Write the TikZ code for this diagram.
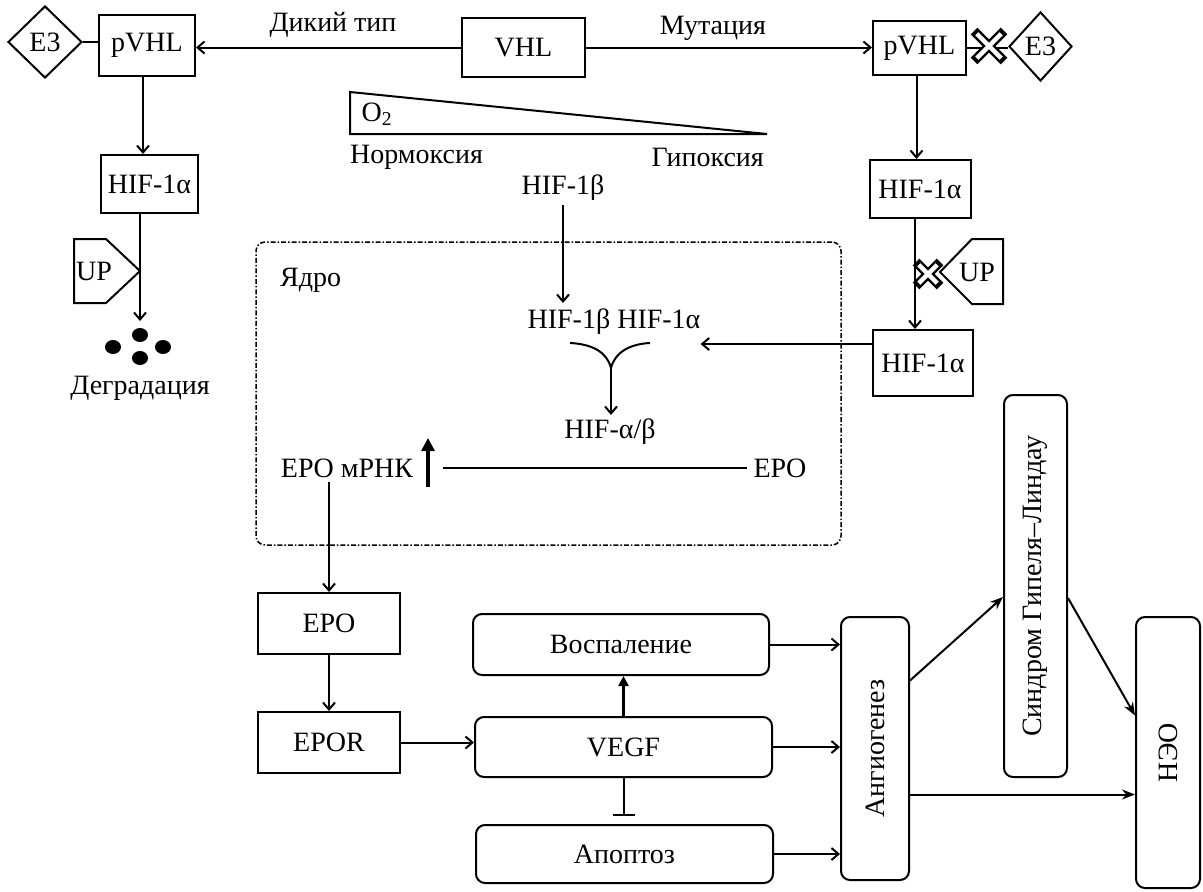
\documentclass[tikz,border=0pt]{standalone}
\usepackage{fontspec}
\setmainfont{Liberation Serif}
\usetikzlibrary{arrows.meta,shapes.geometric}
\tikzset{
  pics/xcross/.style={code={
    \draw[line width=9.5pt] (-#1,-#1)--(#1,#1) (-#1,#1)--(#1,-#1);
    \draw[white,line width=4.5pt] (-#1+2.8,-#1+2.8)--(#1-2.8,#1-2.8) (-#1+2.8,#1-2.8)--(#1-2.8,-#1+2.8);
  }}
}
\begin{document}
\begin{tikzpicture}[x=1pt,y=-1pt,
  every node/.style={font=\fontsize{28}{33}\selectfont, inner sep=0pt},
  ln/.style={line width=2pt},
  arr/.style={ln,-{Straight Barb[length=7pt,width=12pt,line width=2pt]}},
  farr/.style={ln,-{Stealth[length=13pt,width=10pt]}},
  sbox/.style={draw,ln},
  rbox/.style={draw,ln,rounded corners=9pt},
  dmd/.style={draw,ln,diamond},
  nuc/.style={draw,line width=1.5pt,rounded corners=9pt,dash pattern=on 5pt off 2pt on 1.5pt off 2pt},
  upshape/.style={draw,ln}
]
\useasboundingbox (0,0) rectangle (1203,892);

% ---------- top row
\node[dmd, minimum width=74pt, minimum height=72pt] (e3l) at (45,42) {E3};
\node[sbox, minimum width=96pt, minimum height=61pt] (pvhll) at (147,45.5) {pVHL};
\node[sbox, minimum width=123pt, minimum height=59pt] (vhl) at (523.5,47.5) {VHL};
\node[sbox, minimum width=93pt, minimum height=54pt] (pvhlr) at (919.5,48) {pVHL};
\node[dmd, minimum width=63pt, minimum height=69pt] (e3r) at (1040.5,46.5) {E3};
\draw[ln] (e3l.east) -- (e3l.east -| pvhll.west);
\draw[arr] (vhl.west) -- (vhl.west -| pvhll.east);
\draw[arr] (vhl.east) -- (vhl.east -| pvhlr.west);
\node (wt) at (333,25) {Дикий тип};
\node (mut) at (713,28) {Мутация};
\draw[ln] (pvhlr.east) -- (pvhlr.east -| e3r.west);
\pic at (989,46) {xcross=15};

% ---------- left column
\node[sbox, minimum width=97pt, minimum height=58pt] (hifl) at (149.5,184) {HIF-1α};
\draw[arr] ([xshift=-4pt]pvhll.south) -- ([xshift=-4pt]pvhll.south |- hifl.north);
\coordinate (deg) at (140,321);
\draw[arr] (hifl.south -| deg) -- (deg);
\draw[upshape] (74,239) -- (106,239) -- (140,271) -- (106,303) -- (74,303) -- cycle;
\node (upl) at (94,271) {UP};
\fill (140,335) ellipse [x radius=8pt, y radius=7pt];
\fill (113,347) ellipse [x radius=8pt, y radius=7pt];
\fill (163,347) ellipse [x radius=8pt, y radius=7pt];
\fill (140,358) ellipse [x radius=8pt, y radius=7pt];
\node (degt) at (140,388) {Деградация};

% ---------- right column
\node[sbox, minimum width=101pt, minimum height=58pt] (hifr1) at (920,189) {HIF-1α};
\draw[arr] ([xshift=-3pt]pvhlr.south) -- ([xshift=-3pt]pvhlr.south |- hifr1.north);
\node[sbox, minimum width=100pt, minimum height=66pt] (hifr2) at (923,363) {HIF-1α};
\coordinate (rl) at (915,0);
\draw[arr] (rl |- hifr1.south) -- (rl |- hifr2.north);
\draw[upshape] (940,272) -- (972,239) -- (1003,239) -- (1003,304) -- (972,304) -- cycle;
\node (upr) at (977,272) {UP};
\pic at (928,274) {xcross=12};

% ---------- oxygen gradient
\draw[ln] (350,92) -- (350,134) -- (767,134) -- cycle;
\node (o2) at (377,114) {O\textsubscript{2}};
\node[anchor=west] (norm) at (350,157) {Нормоксия};
\node[anchor=east] (hyp) at (764,157) {Гипоксия};
\node (hifb) at (563,188) {HIF-1β};

% ---------- nucleus
\node[nuc, minimum width=585pt, minimum height=303pt] (nucleus) at (548.5,393.5) {};
\node[anchor=west] (yadro) at (280,280) {Ядро};
\node (hifba) at (614,322) {HIF-1β HIF-1α};
\draw[arr, shorten <=4pt, shorten >=6pt] (hifb.south) -- (hifb.south |- hifba.north);
\coordinate (al) at (570,343);
\coordinate (ar) at (650,343);
\coordinate (am) at (611,368);
\draw[ln] (al) .. controls (592,344) and (607,352) .. (am);
\draw[ln] (ar) .. controls (630,344) and (615,352) .. (am);
\node (hifab) at (610,432) {HIF-α/β};
\draw[arr, shorten >=4pt] (am) -- (am |- hifab.north);
\draw[arr] ([yshift=19pt]hifr2.west) -- ([yshift=19pt]hifr2.west -| hifba.east);
\node (mrna) at (347,468) {EPO мРНК};
\coordinate (ta) at (428,487);
\coordinate (tb) at (428,438);
\draw[line width=3.2pt,-{Triangle[length=13pt,width=13pt]}] (ta) -- (tb);
\node (epot) at (780,468) {EPO};
\coordinate (lstart) at (443,468);
\draw[ln, shorten >=6pt] (lstart) -- (epot.west);

% ---------- bottom
\node[sbox, minimum width=142pt, minimum height=61pt] (epo) at (329,623.5) {EPO};
\node[sbox, minimum width=142pt, minimum height=61pt] (epor) at (329,742.5) {EPOR};
\draw[arr, shorten <=4pt] (epo.north |- mrna.south) -- (epo.north);
\draw[arr] (epo.south) -- (epor.north);
\node[rbox, minimum width=296pt, minimum height=61pt] (vosp) at (621,644.5) {Воспаление};
\node[rbox, minimum width=297pt, minimum height=60pt] (vegf) at (623.5,747) {VEGF};
\node[rbox, minimum width=297pt, minimum height=58pt] (apop) at (624.5,854) {Апоптоз};
\draw[arr] (epor.east) -- (epor.east -| vegf.west);
\draw[line width=2.8pt,-{Triangle[length=10pt,width=10pt]}] (vegf.north) -- (vegf.north |- vosp.south);
\draw[ln,-{Bar[width=22pt,line width=2.4pt]}, shorten >=8pt] (vegf.south) -- (vegf.south |- apop.north);

\node[rbox, minimum width=68pt, minimum height=263pt] (angio) at (875,748.5) {};
\node[rotate=90] (angiot) at (angio.center) {Ангиогенез};
\node[rbox, minimum width=63pt, minimum height=382pt] (sind) at (1035.5,586) {};
\node[rotate=90] (sindt) at (sind.center) {Синдром Гипеля–Линдау};
\node[rbox, minimum width=64pt, minimum height=271pt] (neo) at (1168,752.5) {};
\node[rotate=90] (neot) at (neo.center) {НЭО};

\draw[arr] (vosp.east) -- (vosp.east -| angio.west);
\draw[arr] (vegf.east) -- (vegf.east -| angio.west);
\draw[arr] (apop.east) -- (apop.east -| angio.west);
\draw[farr] ([yshift=68pt]angio.east) -- ([yshift=-11pt]sind.west);
\draw[farr] ([yshift=-12pt]sind.east) -- ([yshift=37pt]neo.west);
\draw[farr] ([yshift=-46pt]angio.east) -- ([yshift=-46pt]angio.east -| neo.west);
\end{tikzpicture}
\end{document}
